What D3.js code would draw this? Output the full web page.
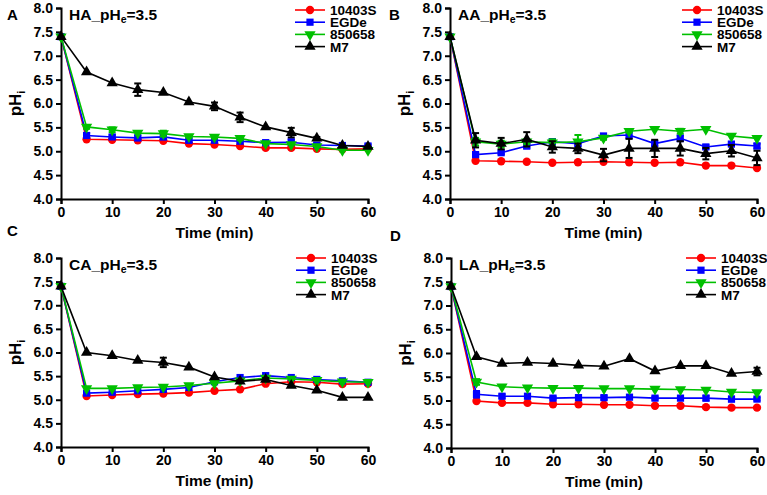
<!DOCTYPE html>
<html>
<head>
<meta charset="utf-8">
<script src="https://cdn.jsdelivr.net/npm/d3@7"></script>
<style>
  body { margin: 0; background: #fff; }
  svg text { font-family: "Liberation Sans", Arial, sans-serif; font-weight: bold; }
</style>
</head>
<body>
<div id="chart"></div>
<script>
// sampling times (min)
var times = [0, 5, 10, 15, 20, 25, 30, 35, 40, 45, 50, 55, 60];
var strains = ["10403S", "EGDe", "850658", "M7"];
var xTicks = [0, 10, 20, 30, 40, 50, 60];
var yTicks = [4.0, 4.5, 5.0, 5.5, 6.0, 6.5, 7.0, 7.5, 8.0];

// HA panel
var HA_10403S = [7.4, 5.25, 5.24, 5.23, 5.22, 5.16, 5.14, 5.11, 5.07, 5.07, 5.05, 5.04, 5.05];
var HA_EGDe   = [7.4, 5.33, 5.30, 5.28, 5.30, 5.23, 5.23, 5.21, 5.18, 5.19, 5.13, 5.12, 5.11];
var HA_850658 = [7.4, 5.51, 5.45, 5.38, 5.37, 5.31, 5.30, 5.27, 5.16, 5.14, 5.10, 5.02, 5.02];
var HA_M7     = [7.4, 6.66, 6.43, 6.29, 6.23, 6.03, 5.94, 5.71, 5.51, 5.39, 5.27, 5.12, 5.10];
var HA_EGDe_err   = [0, 0.05, 0.04, 0.05, 0.05, 0.04, 0.03, 0.03, 0.03, 0.06, 0.04, 0.03, 0.03];
var HA_850658_err = [0, 0.04, 0.05, 0.02, 0.06, 0.03, 0.03, 0.04, 0.02, 0.02, 0.02, 0.02, 0.02];
var HA_M7_err     = [0, 0.02, 0.02, 0.13, 0.02, 0.02, 0.08, 0.10, 0.02, 0.10, 0.03, 0.02, 0.02];

// AA panel
var AA_10403S = [7.4, 4.80, 4.79, 4.78, 4.76, 4.77, 4.78, 4.77, 4.76, 4.77, 4.70, 4.70, 4.65];
var AA_EGDe   = [7.4, 4.93, 4.97, 5.11, 5.20, 5.16, 5.32, 5.34, 5.16, 5.27, 5.09, 5.15, 5.11];
var AA_850658 = [7.4, 5.20, 5.15, 5.20, 5.18, 5.20, 5.28, 5.42, 5.46, 5.42, 5.46, 5.32, 5.27];
var AA_M7     = [7.4, 5.23, 5.16, 5.25, 5.09, 5.06, 4.92, 5.06, 5.06, 5.06, 4.95, 5.01, 4.86];
var AA_EGDe_err   = [0, 0.04, 0.03, 0.05, 0.05, 0.05, 0.03, 0.07, 0.05, 0.06, 0.04, 0.04, 0.05];
var AA_850658_err = [0, 0.08, 0.07, 0.05, 0.07, 0.14, 0.04, 0.03, 0.02, 0.05, 0.02, 0.02, 0.02];
var AA_M7_err     = [0, 0.15, 0.12, 0.15, 0.12, 0.10, 0.13, 0.20, 0.18, 0.15, 0.12, 0.12, 0.15];

// CA panel
var CA_10403S = [7.4, 5.08, 5.10, 5.12, 5.13, 5.15, 5.19, 5.22, 5.34, 5.38, 5.37, 5.33, 5.34];
var CA_EGDe   = [7.4, 5.14, 5.16, 5.19, 5.22, 5.26, 5.38, 5.47, 5.51, 5.47, 5.43, 5.40, 5.37];
var CA_850658 = [7.4, 5.24, 5.24, 5.26, 5.27, 5.30, 5.35, 5.40, 5.46, 5.44, 5.41, 5.38, 5.37];
var CA_M7     = [7.4, 6.00, 5.93, 5.83, 5.79, 5.69, 5.48, 5.39, 5.43, 5.30, 5.20, 5.05, 5.05];
var CA_M7_err = [0, 0.02, 0.02, 0.02, 0.10, 0.02, 0.02, 0.03, 0.03, 0.02, 0.02, 0.02, 0.02];

// LA panel
var LA_10403S = [7.4, 4.99, 4.95, 4.95, 4.92, 4.92, 4.91, 4.91, 4.89, 4.89, 4.86, 4.85, 4.85];
var LA_EGDe   = [7.4, 5.13, 5.09, 5.09, 5.05, 5.06, 5.06, 5.07, 5.05, 5.05, 5.05, 5.03, 5.03];
var LA_850658 = [7.4, 5.39, 5.29, 5.27, 5.26, 5.26, 5.25, 5.25, 5.24, 5.23, 5.22, 5.18, 5.17];
var LA_M7     = [7.4, 5.92, 5.78, 5.80, 5.78, 5.74, 5.72, 5.88, 5.62, 5.73, 5.73, 5.57, 5.61];
var LA_EGDe_err   = [0, 0.07, 0.04, 0.03, 0.03, 0.05, 0.04, 0.03, 0.03, 0.03, 0.05, 0.05, 0.03];
var LA_850658_err = [0, 0.06, 0.02, 0.02, 0.02, 0.02, 0.02, 0.02, 0.02, 0.02, 0.02, 0.02, 0.02];
var LA_M7_err     = [0, 0.02, 0.02, 0.02, 0.02, 0.02, 0.02, 0.02, 0.02, 0.02, 0.02, 0.02, 0.08];

var colors = {"10403S": "#ff0000", "EGDe": "#0000ff", "850658": "#00c000", "M7": "#000000"};
var symbols = {"10403S": d3.symbolCircle, "EGDe": d3.symbolSquare, "850658": "down", "M7": d3.symbolTriangle};

var zeros = times.map(function() { return 0; });

var panels = [
  {letter: "A", acid: "HA", lx: 7, ly: 20, left: 61, right: 368, top: 8, bottom: 199, legX: 295, legY: 10,
   series: [HA_10403S, HA_EGDe, HA_850658, HA_M7], errs: [zeros, HA_EGDe_err, HA_850658_err, HA_M7_err]},
  {letter: "B", acid: "AA", lx: 389, ly: 20, left: 450, right: 757, top: 8, bottom: 199, legX: 682, legY: 10,
   series: [AA_10403S, AA_EGDe, AA_850658, AA_M7], errs: [zeros, AA_EGDe_err, AA_850658_err, AA_M7_err]},
  {letter: "C", acid: "CA", lx: 7, ly: 236, left: 61, right: 368, top: 258, bottom: 447, legX: 296, legY: 258,
   series: [CA_10403S, CA_EGDe, CA_850658, CA_M7], errs: [zeros, zeros, zeros, CA_M7_err]},
  {letter: "D", acid: "LA", lx: 390, ly: 241, left: 451, right: 757, top: 258, bottom: 448, legX: 686, legY: 258,
   series: [LA_10403S, LA_EGDe, LA_850658, LA_M7], errs: [zeros, LA_EGDe_err, LA_850658_err, LA_M7_err]}
];

var svg = d3.select("#chart").append("svg")
  .attr("width", 767)
  .attr("height", 495);

function marker(g, name, cx, cy) {
  var s = symbols[name];
  if (s === "down") {
    g.append("path")
      .attr("d", d3.symbol().type(d3.symbolTriangle).size(55)())
      .attr("transform", "translate(" + cx + "," + cy + ") rotate(180)")
      .attr("fill", colors[name]);
  } else {
    g.append("path")
      .attr("d", d3.symbol().type(s).size(s === d3.symbolSquare ? 52 : 55)())
      .attr("transform", "translate(" + cx + "," + cy + ")")
      .attr("fill", colors[name]);
  }
}

panels.forEach(function(p) {
  var x = d3.scaleLinear().domain([0, 60]).range([p.left, p.right]);
  var y = d3.scaleLinear().domain([4, 8]).range([p.bottom, p.top]);

  var g = svg.append("g");

  // axes
  var xAxis = d3.axisBottom(x).tickValues(xTicks).tickSize(5).tickPadding(3).tickFormat(d3.format("d"));
  var yAxis = d3.axisLeft(y).tickValues(yTicks).tickSize(5).tickPadding(3).tickFormat(d3.format(".1f"));

  var gx = g.append("g").attr("transform", "translate(0," + p.bottom + ")").call(xAxis);
  var gy = g.append("g").attr("transform", "translate(" + p.left + ",0)").call(yAxis);
  [gx, gy].forEach(function(a) {
    a.select(".domain").attr("stroke", "#000").attr("stroke-width", 2);
    a.selectAll(".tick line").attr("stroke", "#000").attr("stroke-width", 2);
    a.selectAll(".tick text").attr("fill", "#000").style("font-size", "14px");
  });

  // axis titles
  g.append("text")
    .attr("x", (p.left + p.right) / 2)
    .attr("y", p.bottom + 39)
    .attr("text-anchor", "middle")
    .style("font-size", "15.5px")
    .text("Time (min)");

  var yt = g.append("text")
    .attr("transform", "translate(" + (p.left - 40) + "," + ((p.top + p.bottom) / 2) + ") rotate(-90)")
    .attr("text-anchor", "middle")
    .style("font-size", "17px");
  yt.append("tspan").text("pH");
  yt.append("tspan").attr("dy", 4).style("font-size", "11px").text("i");

  // panel letter
  g.append("text").attr("x", p.lx).attr("y", p.ly).style("font-size", "15px").text(p.letter);

  // panel title
  var tt = g.append("text").attr("x", p.left + 8).attr("y", p.top + 12).style("font-size", "15.5px");
  tt.append("tspan").text(p.acid + "_pH");
  tt.append("tspan").attr("dy", 3).style("font-size", "10.5px").text("e");
  tt.append("tspan").attr("dy", -3).text("=3.5");

  // lines, error bars, markers
  var line = d3.line().x(function(d, i) { return x(times[i]); }).y(function(d) { return y(d); });

  p.series.forEach(function(vals, si) {
    var name = strains[si];
    var sg = g.append("g");
    sg.append("path")
      .datum(vals)
      .attr("d", line)
      .attr("fill", "none")
      .attr("stroke", colors[name])
      .attr("stroke-width", 1.6);

    vals.forEach(function(v, i) {
      var e = p.errs[si][i];
      if (e > 0.025) {
        var cx = x(times[i]);
        sg.append("line").attr("x1", cx).attr("x2", cx).attr("y1", y(v - e)).attr("y2", y(v + e))
          .attr("stroke", colors[name]).attr("stroke-width", 2);
        [v - e, v + e].forEach(function(ev) {
          sg.append("line").attr("x1", cx - 3.5).attr("x2", cx + 3.5).attr("y1", y(ev)).attr("y2", y(ev))
            .attr("stroke", colors[name]).attr("stroke-width", 2);
        });
      }
      marker(sg, name, x(times[i]), y(v));
    });
  });

  // legend
  strains.forEach(function(name, i) {
    var ly = p.legY + i * 12.2;
    g.append("line").attr("x1", p.legX).attr("x2", p.legX + 30).attr("y1", ly).attr("y2", ly)
      .attr("stroke", colors[name]).attr("stroke-width", 1.6);
    marker(g, name, p.legX + 15, ly);
    g.append("text").attr("x", p.legX + 35).attr("y", ly + 5).style("font-size", "13.5px")
      .text(name);
  });
});
</script>
</body>
</html>
